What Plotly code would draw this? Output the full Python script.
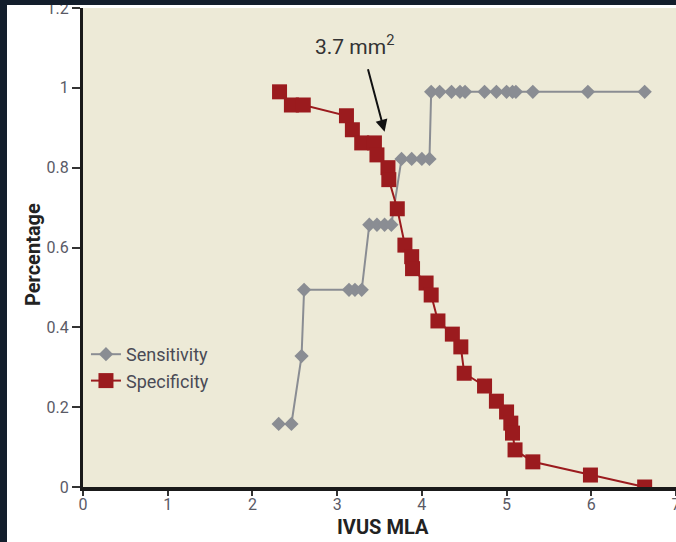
import plotly.graph_objects as go

# Sensitivity (grey diamonds)
sens_x = [2.31, 2.46, 2.58, 2.61, 3.14, 3.21, 3.29, 3.38, 3.47, 3.56, 3.64,
          3.76, 3.88, 4.00, 4.09, 4.11, 4.21, 4.35, 4.45, 4.51, 4.74, 4.88,
          5.00, 5.07, 5.11, 5.31, 5.96, 6.63]
sens_y = [0.158, 0.158, 0.328, 0.494, 0.494, 0.494, 0.494, 0.657, 0.657, 0.657, 0.657,
          0.822, 0.822, 0.822, 0.822, 0.99, 0.99, 0.99, 0.99, 0.99, 0.99, 0.99,
          0.99, 0.99, 0.99, 0.99, 0.99, 0.99]

# Specificity (red squares)
spec_x = [2.32, 2.46, 2.60, 3.11, 3.18, 3.29, 3.44, 3.47, 3.60, 3.61, 3.71,
          3.80, 3.88, 3.89, 4.05, 4.11, 4.19, 4.36, 4.46, 4.50, 4.74, 4.88,
          5.00, 5.05, 5.07, 5.10, 5.31, 5.99, 6.63]
spec_y = [0.99, 0.957, 0.957, 0.93, 0.895, 0.862, 0.862, 0.832, 0.80, 0.77, 0.697,
          0.606, 0.577, 0.547, 0.511, 0.481, 0.416, 0.383, 0.351, 0.285, 0.253, 0.215,
          0.188, 0.160, 0.135, 0.093, 0.063, 0.030, 0.0]

x_ticks = [0, 1, 2, 3, 4, 5, 6, 7]
y_ticks = [0, 0.2, 0.4, 0.6, 0.8, 1, 1.2]
y_labels = ["0", "0.2", "0.4", "0.6", "0.8", "1", "1.2"]

FONT = "Roboto, Liberation Sans, sans-serif"
GREY = "#8a8d93"
RED = "#9b1b1e"
DARK = "#131e2c"

L, T, B = 83, 8, 55
W, H = 676, 542
pw, ph = W - L, H - T - B

fig = go.Figure()
fig.add_trace(go.Scatter(
    x=sens_x, y=sens_y, mode="lines+markers", name="Sensitivity",
    line=dict(color=GREY, width=2),
    marker=dict(symbol="diamond", size=11, color=GREY),
))
fig.add_trace(go.Scatter(
    x=spec_x, y=spec_y, mode="lines+markers", name="Specificity",
    line=dict(color=RED, width=2),
    marker=dict(symbol="square", size=15, color=RED),
))

axis_common = dict(
    showgrid=False, zeroline=False, showline=True, linecolor="#1a1a1a",
    ticks="outside", tickcolor="#333", tickwidth=2, ticklabeloverflow="allow",
    automargin=False,
    tickfont=dict(family=FONT, size=16, color="#5a5a66"),
)
fig.update_xaxes(range=[0, 7], tickvals=x_ticks, ticklen=5, linewidth=4,
                 ticklabelstandoff=-5, **axis_common)
fig.update_yaxes(range=[0, 1.2], tickvals=y_ticks, ticktext=y_labels, ticklen=8,
                 linewidth=3, **axis_common)

fig.add_annotation(x=3.21, y=1.108, xref="x", yref="y", text="3.7 mm<sup>2</sup>",
                   showarrow=False, font=dict(family=FONT, size=21, color="#333"))
fig.add_annotation(x=3.56, y=0.89, xref="x", yref="y", text="",
                   showarrow=True, ax=-17, ay=-64, arrowhead=2, arrowsize=1.2,
                   arrowwidth=2, arrowcolor="#111")
fig.add_annotation(x=(383 - L) / pw, y=(H - B - 527) / ph, xref="paper", yref="paper",
                   xanchor="center", yanchor="middle",
                   text="<b>IVUS MLA</b>", showarrow=False,
                   font=dict(family=FONT, size=20, color="#222"))
fig.add_annotation(x=(33 - L) / pw, y=(H - B - 255) / ph, xref="paper", yref="paper",
                   xanchor="center", yanchor="middle",
                   text="<b>Percentage</b>", showarrow=False, textangle=-90,
                   font=dict(family=FONT, size=20, color="#222"))

# dark frame bands (left and top)
fig.add_shape(type="rect", xref="paper", yref="paper", layer="above",
              x0=(0 - L) / pw, x1=(7 - L) / pw, y0=-0.5, y1=1.5,
              fillcolor=DARK, line=dict(width=0))
fig.add_shape(type="rect", xref="paper", yref="paper", layer="above",
              x0=-0.5, x1=1.5, y0=(H - B - 5) / ph, y1=1.5,
              fillcolor=DARK, line=dict(width=0))

fig.update_layout(
    width=W, height=H,
    margin=dict(l=L, r=0, t=T, b=B),
    paper_bgcolor="white", plot_bgcolor="#edead7",
    showlegend=True,
    legend=dict(x=0.005, y=(H - B - 336) / ph, xanchor="left", yanchor="top",
                bgcolor="rgba(0,0,0,0)", font=dict(family=FONT, size=18, color="#4a4a55"),
                tracegroupgap=0, itemwidth=30),
)

fig.write_html("out.html")
